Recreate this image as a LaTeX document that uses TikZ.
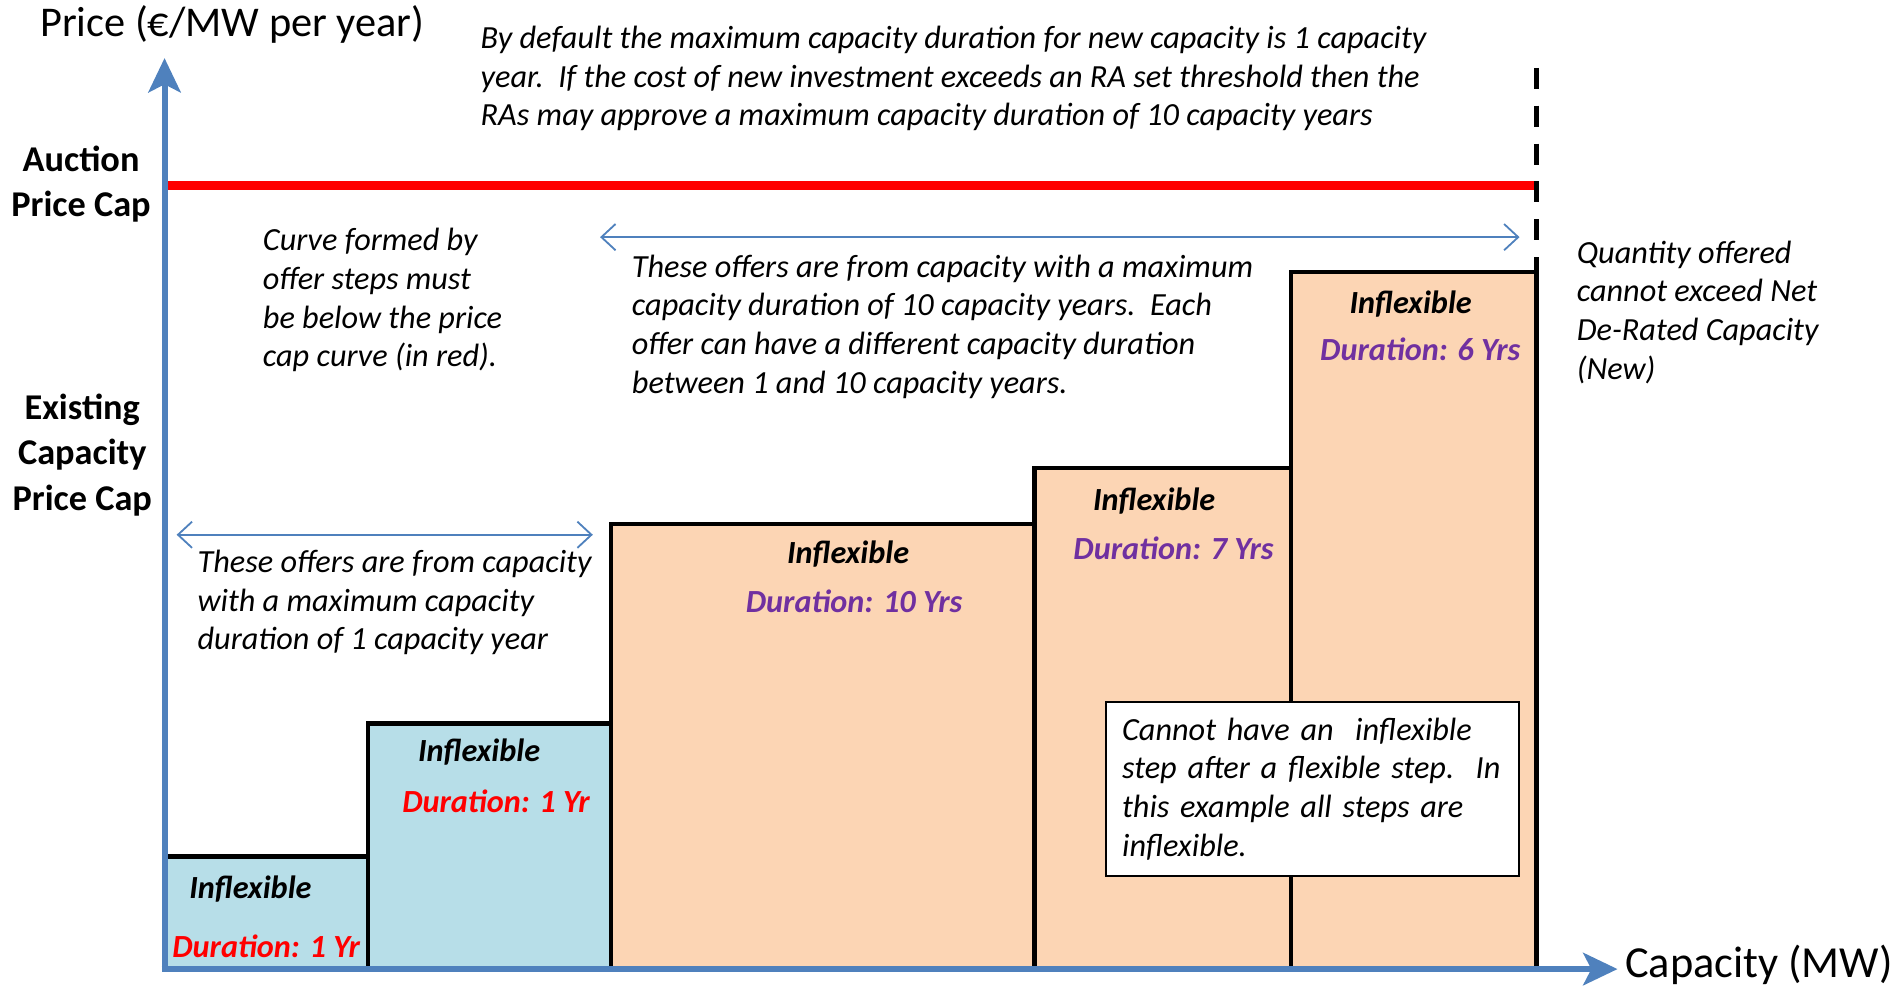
\documentclass[tikz,border=0pt]{standalone}
\usepackage{fontspec}
\setmainfont{Carlito}
\usetikzlibrary{arrows.meta,positioning,calc}

\definecolor{axisblue}{RGB}{79,129,189}
\definecolor{stepblue}{RGB}{183,222,232}
\definecolor{steppeach}{RGB}{252,213,180}
\definecolor{durpurple}{RGB}{112,48,160}

\begin{document}
\begin{tikzpicture}[x=0.6pt,y=-0.6pt,
                    axis/.style={
                                % the two blue axes
                                draw=axisblue,line width=3pt,
                                -{Stealth[length=17pt,width=16pt,inset=4pt]}},
                    span/.style={
                                draw=axisblue,line width=0.9pt,
                                {Straight Barb[length=7pt,width=13pt]}-{Straight Barb[length=7pt,width=13pt]}},
                    stepbar/.style={draw=black,line width=2.2pt},
                    steptitle/.style={font=\fontsize{16}{19.2}\selectfont\bfseries\itshape},
                    stepdur/.style={font=\fontsize{16}{19.2}\selectfont\bfseries\itshape},
                    note/.style={
                                % italic remarks
                                align=left,anchor=west,inner sep=0pt,
                                font=\fontsize{16}{19.2}\selectfont\itshape},
                    caplabel/.style={align=center,font=\fontsize{18}{22.5}\selectfont\bfseries},
                    axislabel/.style={font=\fontsize{21}{25}\selectfont}]
 \useasboundingbox (0,0) rectangle (1568,815);
 \coordinate (origin) at (136,801);
 \coordinate (ytip)   at (136,48);
 \coordinate (xtip)   at (1337,801);

 % offer steps
 \filldraw[stepbar,fill=stepblue]  (136,708) rectangle (304,801);
 \filldraw[stepbar,fill=stepblue]  (304,598) rectangle (505,801);
 \filldraw[stepbar,fill=steppeach] (505,433) rectangle (855,801);
 \filldraw[stepbar,fill=steppeach] (855,387) rectangle (1067,801);
 \filldraw[stepbar,fill=steppeach] (1067,225) rectangle (1270,801);

 \node (t1) [steptitle] at (207,735)  {Inflexible};
 \node (d1) [stepdur,red] at (220,782) {Duration: 1 Yr};
 \node (t2) [steptitle] at (396,622)  {Inflexible};
 \node (d2) [stepdur,red] at (410,662) {Duration: 1 Yr};
 \node (t3) [steptitle] at (701,458)  {Inflexible};
 \node (d3) [stepdur,durpurple] at (706,497) {Duration: 10 Yrs};
 \node (t4) [steptitle] at (954,414)  {Inflexible};
 \node (d4) [stepdur,durpurple] at (970,453) {Duration: 7 Yrs};
 \node (t5) [steptitle] at (1166,251) {Inflexible};
 \node (d5) [stepdur,durpurple] at (1174,289) {Duration: 6 Yrs};

 % price cap and quantity limit
 \coordinate (capL) at (136,153);
 \coordinate (capR) at (1270,153);
 \coordinate (limT) at (1270,56);
 \coordinate (limB) at (1270,225);
 \draw[red,line width=4.4pt] (capL) -- (capR);
 \draw[black,line width=2.8pt,dash pattern=on 10.4pt off 8.4pt] (limT) -- (limB);

 % axes
 \draw[axis] (origin) -- (ytip);
 \draw[axis] ([xshift=-1.5pt]origin) -- (xtip);
 \node (ylabel) [axislabel] at (192,20) {Price (€/MW per year)};
 \node (xlabel) [axislabel,font=\fontsize{22}{26}\selectfont,anchor=base west,inner sep=0pt] at (1343,808) {Capacity (MW)};

 \node (auction)  [caplabel] at (67,152) {Auction\\Price Cap};
 \node (existing) [caplabel] at (68,376) {Existing\\Capacity\\Price Cap};

 % remarks
 \node (default) [note] at (397,65) {By default the maximum capacity duration for new capacity is 1 capacity\\
   year.\ \ If the cost of new investment exceeds an RA set threshold then the\\
   RAs may approve a maximum capacity duration of 10 capacity years};
 \node (curve) [note] at (217,248) {Curve formed by\\offer steps must\\be below the price\\cap curve (in red).};
 \node (tenyr) [note] at (522,270) {These offers are from capacity with a maximum\\
   capacity duration of 10 capacity years.\ \ Each\\
   offer can have a different capacity duration\\
   between 1 and 10 capacity years.};
 \node (oneyr) [note] at (163,498) {These offers are from capacity\\with a maximum capacity\\duration of 1 capacity year};
 \node (qty) [note] at (1303,258) {Quantity offered\\cannot exceed Net\\De-Rated Capacity\\(New)};
 \node (rule) [note,draw=black,line width=0.9pt,fill=white,anchor=center,
               inner xsep=8pt,text width=189pt,minimum height=86.4pt] at (1085,652)
   {Cannot have an \ inflexible\\step after a flexible step.\ \ In\\this example all steps are\\inflexible.};

 % spans of the two kinds of offers
 \coordinate (tenL) at (496,196);
 \coordinate (tenR) at (1256,196);
 \coordinate (oneL) at (146,442);
 \coordinate (oneR) at (490,442);
 \draw[span] (tenL) -- (tenR);
 \draw[span] (oneL) -- (oneR);
\end{tikzpicture}
\end{document}
